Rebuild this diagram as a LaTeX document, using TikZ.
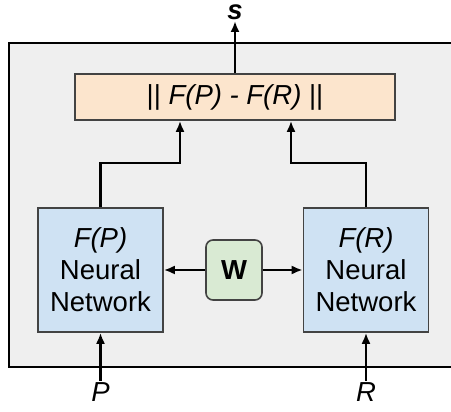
\documentclass[tikz,border=0pt]{standalone}
\usepackage{fontspec}
\setmainfont{Liberation Sans}
\usetikzlibrary{arrows.meta}
\definecolor{outerfill}{HTML}{EFEFEF}
\definecolor{orangefill}{HTML}{FCE5CD}
\definecolor{bluefill}{HTML}{CFE2F3}
\definecolor{greenfill}{HTML}{D9EAD3}
\definecolor{boxline}{HTML}{434343}
\tikzset{
  big/.style={font=\fontsize{27.5}{32}\selectfont},
  box/.style={draw=boxline, line width=1.6pt, big, align=center, inner sep=0pt},
  nnbox/.style={box, fill=bluefill, minimum width=125pt, minimum height=124pt},
  arr/.style={line width=2.2pt, -{Latex[length=11pt,width=9pt]}},
  lbl/.style={big, inner sep=1pt},
}
\begin{document}
\begin{tikzpicture}[x=1pt,y=-1pt]
\useasboundingbox (0,0) rectangle (451,412);
\begin{scope}
\clip (0,0) rectangle (451,412);
\draw[fill=outerfill, draw=black, line width=1.8pt] (9,43) rectangle (470,367);
\end{scope}
\node[box, fill=orangefill, minimum width=320pt, minimum height=46pt] (diff) at (235,97) {|| \textit{F(P) - F(R)} ||};
\node[nnbox] (nnl) at (100.5,270) {\textit{F(P)}\\Neural\\Network};
\node[nnbox] (nnr) at (366,270) {\textit{F(R)}\\Neural\\Network};
\node[box, fill=greenfill, rounded corners=7pt, minimum width=56pt, minimum height=60pt] (w) at (234,270) {\textbf{W}};
\node[big, inner sep=0pt, text height=14pt, text depth=0pt, anchor=south] (s) at (235,20) {\textbf{\textit{s}}};
\node[lbl, anchor=north] (p) at (100.5,381) {\textit{P}};
\node[lbl, anchor=north] (r) at (366,381) {\textit{R}};
\draw[arr] (diff.north) -- ([yshift=-1pt]s.south);
\draw[arr] (nnl.north) -- ++(0,-44) -| ([xshift=-55pt]diff.south);
\draw[arr] (nnr.north) -- ++(0,-44) -| ([xshift=56pt]diff.south);
\draw[arr] (w.west) -- (nnl.east);
\draw[arr] (w.east) -- (nnr.west);
\draw[arr] (p.north) -- (nnl.south);
\draw[arr] (r.north) -- (nnr.south);
\end{tikzpicture}
\end{document}
